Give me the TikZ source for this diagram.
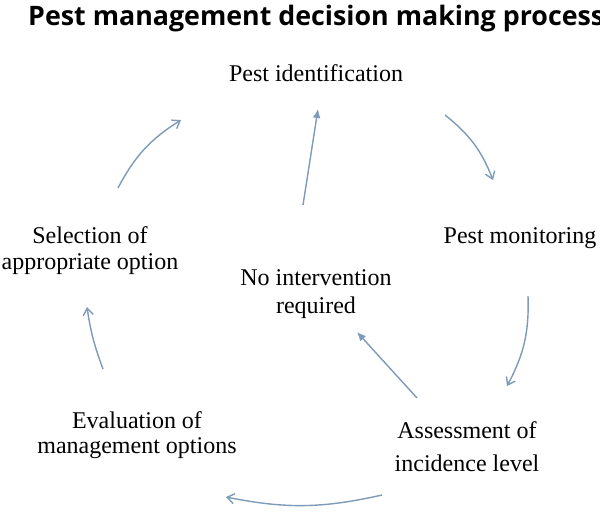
\documentclass[tikz,border=0pt]{standalone}
\usepackage{fontspec}
\setmainfont{Liberation Serif}
\newfontfamily\titlefont{Open Sans}
\usetikzlibrary{arrows.meta}
\definecolor{arrc}{RGB}{125,155,185}
\tikzset{
  lbl/.style={inner sep=0pt, align=center, font=\fontsize{24}{28}\selectfont},
  cyc/.style={draw=arrc, line width=1.4pt, -{Straight Barb[length=7pt,width=10pt]}},
  cycf/.style={draw=arrc, line width=1.4pt, -{Latex[length=9pt,width=8pt]}}
}
\begin{document}
\begin{tikzpicture}[x=1pt,y=-1pt]
\useasboundingbox (0,0) rectangle (600,512);
\node[anchor=base west, inner sep=0pt, font=\titlefont\bfseries\fontsize{26.8}{30}\selectfont] (title) at (28,25) {Pest management decision making process};
\node[lbl, anchor=base] (pid) at (316,81) {Pest identification};
\node[lbl, anchor=base] (pmon) at (520,243) {Pest monitoring};
\node[lbl, font=\fontsize{24}{33}\selectfont] (assess) at (467,447) {Assessment of\\incidence level};
\node[lbl, font=\fontsize{24}{25}\selectfont] (eval) at (137,435) {Evaluation of\\management options};
\node[lbl, font=\fontsize{24}{26}\selectfont] (sel) at (90,251) {Selection of\\appropriate option};
\node[lbl, font=\fontsize{24}{28}\selectfont] (noint) at (316,294) {No intervention\\required};
% arrow end points
\coordinate (a1s) at (118,188); \coordinate (a1e) at (181,120);
\coordinate (a2s) at (303,205); \coordinate (a2e) at (318,109);
\coordinate (a3s) at (445,115); \coordinate (a3e) at (493,180);
\coordinate (a4s) at (528,296); \coordinate (a4e) at (507,386);
\coordinate (a5s) at (417,398); \coordinate (a5e) at (357,332);
\coordinate (a6s) at (382,495); \coordinate (a6e) at (226,497);
\coordinate (a7s) at (103,369); \coordinate (a7e) at (87,307);
\draw[cyc] (a1s) to[bend left=15] (a1e);
\draw[cycf] (a2s) -- (a2e);
\draw[cyc] (a3s) to[bend left=15] (a3e);
\draw[cyc] (a4s) to[bend left=15] (a4e);
\draw[cycf] (a5s) -- (a5e);
\draw[cyc] (a6s) to[bend left=12] (a6e);
\draw[cyc] (a7s) to[bend left=6] (a7e);
\end{tikzpicture}
\end{document}
